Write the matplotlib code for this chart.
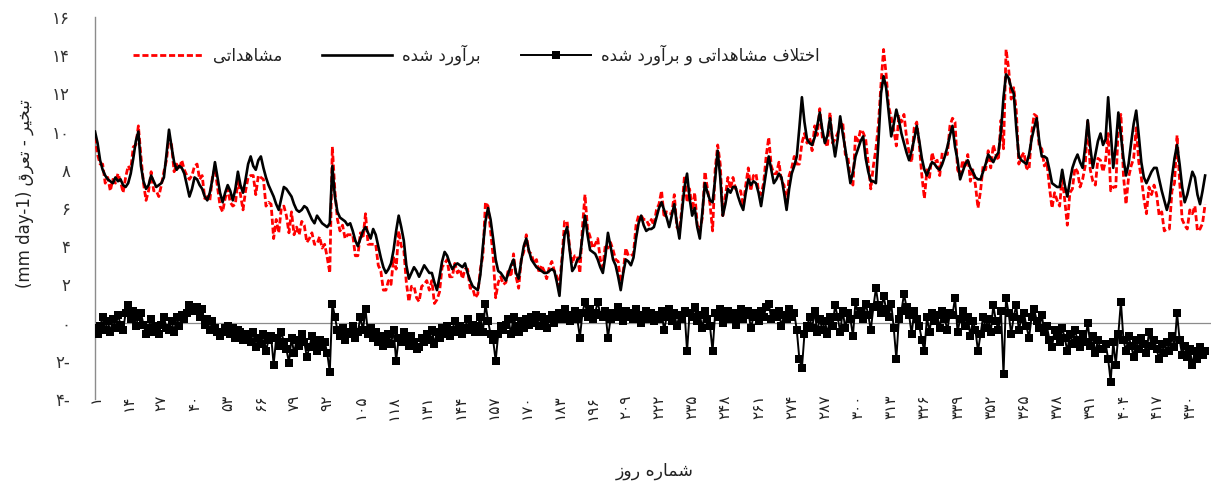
import matplotlib
matplotlib.use("Agg")
import matplotlib.pyplot as plt
import numpy as np

# ---------------- data ----------------
estimated = [
    10.0, 9.4, 8.5, 8.0, 7.7, 7.5, 7.4, 7.3, 7.6, 7.4,
    7.5, 7.2, 7.1, 7.3, 7.8, 8.6, 9.5, 10.0, 8.2, 7.4,
    7.0, 7.2, 7.7, 7.4, 7.1, 7.2, 7.3, 7.6, 8.8, 10.1,
    9.2, 8.4, 8.0, 8.2, 8.1, 7.8, 7.2, 6.6, 7.0, 7.6,
    7.5, 7.2, 7.0, 6.6, 6.4, 6.8, 7.5, 8.4, 7.6, 6.8,
    6.3, 6.8, 7.2, 6.9, 6.4, 7.0, 7.9, 7.2, 6.8, 7.5,
    8.3, 8.7, 8.2, 8.0, 8.5, 8.7, 8.1, 7.6, 7.2, 6.9,
    6.6, 6.2, 5.9, 6.5, 7.1, 7.0, 6.8, 6.6, 6.2, 5.9,
    5.8, 5.9, 6.1, 6.0, 5.7, 5.4, 5.2, 5.6, 5.4, 5.2,
    5.1, 5.0, 5.2, 8.2, 6.6, 5.8, 5.5, 5.4, 5.3, 5.1,
    5.2, 4.8, 4.3, 4.0, 4.4, 4.8, 5.0, 4.7, 4.4, 4.9,
    4.6, 4.0, 3.4, 2.9, 2.6, 2.8, 3.1, 3.8, 4.8, 5.6,
    5.0, 4.3, 3.0, 2.3, 2.6, 2.9, 2.7, 2.4, 2.7, 3.0,
    2.8, 2.6, 2.6, 2.1, 1.7, 2.4, 3.2, 3.7, 3.5, 3.1,
    2.8, 3.0, 3.1, 3.0, 2.9, 3.1, 2.6, 2.2, 1.9, 1.8,
    1.7, 2.5, 4.0, 5.3, 6.0, 5.4, 4.4, 3.3, 2.7, 2.6,
    2.4, 2.2, 2.6, 3.0, 3.3, 2.6, 2.3, 3.2, 4.0, 4.4,
    3.8, 3.3, 3.1, 2.9, 2.8, 2.7, 2.6, 2.6, 2.7, 2.8,
    2.7, 2.1, 1.4, 3.2, 4.6, 5.0, 3.8, 2.7, 2.9, 3.3,
    3.4, 4.5, 5.6, 4.6, 3.8, 3.7, 3.6, 3.3, 2.9, 2.6,
    3.5, 4.7, 4.0, 3.3, 3.0, 2.4, 1.7, 2.6, 3.3, 3.2,
    3.0, 3.4, 4.4, 5.2, 5.6, 5.1, 4.8, 4.9, 4.9, 5.0,
    5.5, 6.0, 6.3, 5.9, 5.5, 5.0, 5.6, 6.2, 5.2, 4.4,
    5.8, 7.1, 7.8, 6.5, 5.6, 6.0, 5.0, 4.4, 5.8, 7.3,
    6.8, 6.4, 6.3, 7.5, 9.0, 7.6, 5.6, 6.2, 7.0, 6.8,
    7.1, 7.1, 6.6, 6.2, 5.9, 6.8, 7.5, 7.2, 7.4, 7.3,
    6.8, 6.1, 7.0, 7.9, 8.7, 8.0, 7.3, 7.5, 7.8, 7.6,
    6.8, 5.9, 7.0, 7.8, 8.2, 8.7, 10.2, 11.8, 10.5, 9.6,
    9.4, 9.3, 9.7, 10.3, 11.0, 10.1, 9.4, 9.8, 10.7, 9.6,
    8.7, 9.6, 10.8, 9.9, 9.1, 8.2, 7.3, 7.9, 8.7, 9.1,
    9.5, 9.75, 8.6, 7.9, 7.4, 7.4, 7.3, 9.5, 12.0, 12.9,
    12.3, 11.0, 9.75, 10.4, 11.15, 10.6, 9.9, 9.4, 8.9, 8.5,
    9.0, 9.6, 10.3, 9.5, 8.6, 8.0, 7.7, 8.1, 8.4, 8.3,
    8.1, 8.0, 8.3, 8.7, 9.2, 9.8, 10.3, 9.2, 8.5, 7.5,
    7.9, 8.3, 8.5, 8.1, 7.9, 7.6, 7.5, 7.5, 7.9, 8.3,
    8.8, 8.6, 8.4, 8.7, 8.9, 10.0, 11.8, 13.0, 12.8, 12.3,
    12.0, 10.2, 8.7, 8.5, 8.4, 8.3, 8.8, 9.6, 10.2, 10.7,
    9.5, 8.7, 8.7, 8.6, 8.0, 7.3, 7.2, 7.1, 7.1, 8.0,
    7.2, 6.6, 7.4, 8.1, 8.5, 8.8, 8.4, 8.1, 9.2, 10.6,
    9.2, 8.1, 8.8, 9.5, 9.9, 9.3, 9.6, 11.8, 10.0, 8.1,
    9.3, 11.0, 9.8, 8.6, 7.7, 8.3, 9.4, 10.4, 11.1, 9.8,
    8.4, 7.6, 7.3, 7.6, 7.9, 8.1, 8.1, 7.5, 6.9, 6.4,
    5.9, 6.4, 7.6, 8.6, 9.3, 8.3, 7.1, 6.3, 6.7, 7.3,
    7.9, 7.6, 6.7, 6.2, 6.9, 7.7,
]

observed = [
    9.7, 8.8, 8.3, 8.3, 7.3, 7.6, 6.9, 7.5, 7.3, 7.8,
    7.4, 6.8, 7.6, 8.2, 8.0, 9.2, 9.3, 10.3, 8.7, 7.3,
    6.4, 6.9, 7.9, 6.9, 6.9, 6.6, 7.2, 7.9, 8.5, 9.7,
    9.3, 7.9, 8.3, 8.0, 8.5, 8.0, 7.7, 7.5, 7.7, 8.2,
    8.3, 7.5, 7.7, 6.5, 6.6, 6.4, 7.6, 8.1, 7.1, 6.1,
    5.8, 6.5, 7.0, 6.3, 6.1, 6.2, 7.5, 6.7, 5.9, 6.9,
    7.6, 7.7, 7.7, 6.7, 7.7, 7.6, 7.5, 6.1, 6.3, 6.2,
    4.4, 5.4, 4.7, 6.0, 6.1, 5.6, 4.7, 5.8, 4.6, 5.0,
    4.6, 5.3, 5.1, 4.2, 4.4, 4.7, 4.1, 4.1, 4.5, 3.9,
    4.1, 3.4, 2.6, 9.2, 6.9, 5.4, 4.8, 5.1, 4.4, 4.6,
    4.6, 4.6, 3.5, 3.5, 4.7, 4.4, 5.7, 4.1, 4.1, 4.1,
    4.1, 3.0, 2.7, 1.7, 1.7, 2.2, 2.0, 3.4, 2.8, 4.8,
    4.0, 3.8, 2.1, 1.1, 1.9, 1.9, 1.3, 1.1, 1.9, 2.0,
    2.2, 1.7, 2.2, 1.0, 1.2, 1.6, 2.9, 3.1, 3.3, 2.4,
    2.4, 3.1, 2.6, 2.8, 2.3, 2.8, 2.8, 1.8, 1.8, 1.3,
    1.5, 2.8, 3.5, 6.3, 6.1, 4.8, 3.5, 1.3, 2.1, 2.4,
    2.0, 2.1, 2.8, 2.4, 3.6, 2.4, 1.8, 3.3, 3.7, 4.6,
    3.7, 3.6, 3.1, 3.3, 2.6, 3.0, 2.7, 2.3, 2.9, 3.2,
    2.7, 2.4, 1.9, 3.4, 5.3, 5.3, 3.9, 3.1, 3.5, 3.5,
    2.6, 5.0, 6.7, 4.9, 4.5, 3.9, 4.1, 4.4, 3.3, 2.9,
    4.1, 3.9, 4.2, 3.8, 3.3, 3.2, 2.1, 2.7, 3.9, 3.5,
    3.5, 3.6, 5.1, 5.6, 5.6, 5.4, 5.4, 5.1, 5.4, 5.1,
    5.9, 6.2, 6.9, 5.5, 5.8, 5.7, 5.7, 6.7, 5.0, 4.8,
    6.0, 7.7, 6.3, 7.0, 5.9, 6.8, 5.1, 4.8, 5.5, 7.9,
    7.0, 6.2, 4.8, 8.0, 9.3, 8.3, 5.6, 6.6, 7.6, 7.0,
    7.6, 7.0, 6.9, 6.9, 6.1, 7.2, 8.1, 6.9, 7.7, 7.8,
    6.9, 6.7, 7.3, 8.7, 9.7, 8.2, 7.8, 7.8, 8.4, 7.4,
    7.2, 6.1, 7.7, 8.1, 8.7, 8.3, 8.3, 9.4, 9.9, 9.4,
    9.7, 9.0, 10.3, 9.8, 11.2, 9.7, 9.5, 9.2, 11.0, 9.4,
    9.6, 9.9, 10.3, 10.5, 8.8, 8.7, 7.5, 7.2, 9.8, 9.5,
    10.1, 9.95, 9.6, 8.3, 7.0, 8.2, 9.1, 10.4, 12.5, 14.3,
    13.0, 11.3, 10.75, 10.1, 9.25, 10.8, 10.5, 10.9, 9.7, 8.9,
    8.4, 10.2, 10.5, 9.3, 7.7, 6.5, 8.0, 7.6, 8.9, 8.4,
    8.5, 7.7, 8.9, 8.9, 8.8, 10.3, 10.7, 10.5, 8.0, 7.7,
    8.5, 8.1, 8.8, 7.4, 8.0, 7.2, 6.0, 6.9, 8.2, 8.0,
    9.0, 8.1, 9.3, 8.8, 8.5, 10.6, 9.1, 14.3, 13.3, 11.7,
    12.3, 11.1, 8.3, 8.7, 8.9, 8.1, 8.0, 9.9, 10.9, 10.8,
    9.2, 9.1, 8.2, 8.4, 7.1, 6.0, 6.8, 6.4, 6.1, 7.7,
    6.4, 5.1, 6.8, 7.0, 8.1, 7.9, 7.1, 7.5, 8.2, 10.6,
    8.0, 7.4, 7.2, 8.6, 8.5, 7.9, 8.5, 9.9, 6.9, 7.1,
    7.1, 10.4, 10.9, 7.7, 6.2, 7.6, 8.2, 8.6, 10.2, 8.4,
    7.6, 6.5, 5.7, 7.1, 6.7, 7.2, 6.7, 5.6, 5.8, 4.8,
    4.9, 4.9, 6.9, 7.3, 9.8, 7.4, 5.4, 5.1, 4.9, 5.9,
    5.7, 6.1, 4.8, 4.9, 5.2, 6.2,
]

difference = [
    -0.3, -0.6, -0.2, 0.3, -0.4, 0.1, -0.5, 0.2, -0.3, 0.4,
    -0.1, -0.4, 0.5, 0.9, 0.2, 0.6, -0.2, 0.3, 0.5, -0.1,
    -0.6, -0.3, 0.2, -0.5, -0.2, -0.6, -0.1, 0.3, -0.3, -0.4,
    0.1, -0.5, 0.3, -0.2, 0.4, 0.2, 0.5, 0.9, 0.7, 0.6,
    0.8, 0.3, 0.7, -0.1, 0.2, -0.4, 0.1, -0.3, -0.5, -0.7,
    -0.5, -0.3, -0.2, -0.6, -0.3, -0.8, -0.4, -0.5, -0.9, -0.6,
    -0.7, -1.0, -0.5, -1.3, -0.8, -1.1, -0.6, -1.5, -0.9, -0.7,
    -2.2, -0.8, -1.2, -0.5, -1.0, -1.4, -2.1, -0.8, -1.6, -0.9,
    -1.2, -0.6, -1.0, -1.8, -1.3, -0.7, -1.1, -1.5, -0.9, -1.3,
    -1.0, -1.6, -2.6, 1.0, 0.3, -0.4, -0.7, -0.3, -0.9, -0.5,
    -0.6, -0.2, -0.8, -0.5, 0.3, -0.4, 0.7, -0.6, -0.3, -0.8,
    -0.5, -1.0, -0.7, -1.2, -0.9, -0.6, -1.1, -0.4, -2.0, -0.8,
    -1.0, -0.5, -0.9, -1.2, -0.7, -1.0, -1.4, -1.3, -0.8, -1.0,
    -0.6, -0.9, -0.4, -1.1, -0.5, -0.8, -0.3, -0.6, -0.2, -0.7,
    -0.4, 0.1, -0.5, -0.2, -0.6, -0.3, 0.2, -0.4, -0.1, -0.5,
    -0.2, 0.3, -0.5, 1.0, 0.1, -0.6, -0.9, -2.0, -0.6, -0.2,
    -0.4, -0.1, 0.2, -0.6, 0.3, -0.2, -0.5, 0.1, -0.3, 0.2,
    -0.1, 0.3, 0.0, 0.4, -0.2, 0.3, 0.1, -0.3, 0.2, 0.4,
    0.0, 0.3, 0.5, 0.2, 0.7, 0.3, 0.1, 0.4, 0.6, 0.2,
    -0.8, 0.5, 1.1, 0.3, 0.7, 0.2, 0.5, 1.1, 0.4, 0.3,
    0.6, -0.8, 0.2, 0.5, 0.3, 0.8, 0.4, 0.1, 0.6, 0.3,
    0.5, 0.2, 0.7, 0.4, 0.0, 0.3, 0.6, 0.2, 0.5, 0.1,
    0.4, 0.2, 0.6, -0.4, 0.3, 0.7, 0.1, 0.5, -0.2, 0.4,
    0.2, 0.6, -1.5, 0.5, 0.3, 0.8, 0.1, 0.4, -0.3, 0.6,
    0.2, -0.2, -1.5, 0.5, 0.3, 0.7, 0.0, 0.4, 0.6, 0.2,
    0.5, -0.1, 0.3, 0.7, 0.2, 0.4, 0.6, -0.3, 0.3, 0.5,
    0.1, 0.6, 0.3, 0.8, 1.0, 0.2, 0.5, 0.3, 0.6, -0.2,
    0.4, 0.2, 0.7, 0.3, 0.5, -0.4, -1.9, -2.4, -0.6, -0.2,
    0.3, -0.3, 0.6, -0.5, 0.2, -0.4, 0.1, -0.6, 0.3, -0.2,
    0.9, 0.3, -0.5, 0.6, -0.3, 0.5, 0.2, -0.7, 1.1, 0.4,
    0.6, 0.2, 1.0, 0.4, -0.4, 0.8, 1.8, 0.9, 0.5, 1.4,
    0.7, 0.3, 1.0, -0.3, -1.9, 0.2, 0.6, 1.5, 0.8, 0.4,
    -0.6, 0.6, 0.2, -0.2, -0.9, -1.5, 0.3, -0.5, 0.5, 0.1,
    0.4, -0.3, 0.6, 0.2, -0.4, 0.5, 0.4, 1.3, -0.5, 0.2,
    0.6, -0.2, 0.3, -0.7, 0.1, -0.4, -1.5, -0.6, 0.3, -0.3,
    0.2, -0.5, 0.9, 0.1, -0.4, 0.6, -2.7, 1.3, 0.5, -0.6,
    0.3, 0.9, -0.4, 0.2, 0.5, -0.2, -0.8, 0.3, 0.7, 0.1,
    -0.3, 0.4, -0.5, -0.2, -0.9, -1.3, -0.4, -0.7, -1.0, -0.3,
    -0.8, -1.5, -0.6, -1.1, -0.4, -0.9, -1.3, -0.6, -1.0, 0.0,
    -1.2, -0.7, -1.6, -0.9, -1.4, -1.4, -1.1, -1.9, -3.1, -1.0,
    -2.2, -0.6, 1.1, -0.9, -1.5, -0.7, -1.2, -1.8, -0.9, -1.4,
    -0.8, -1.1, -1.6, -0.5, -1.2, -0.9, -1.4, -1.9, -1.1, -1.6,
    -1.0, -1.5, -0.7, -1.3, 0.5, -0.9, -1.7, -1.2, -1.8, -1.4,
    -2.2, -1.5, -1.9, -1.3, -1.7, -1.5,
]

x_tick_days = list(range(1, 431, 13))
y_ticks = [-4, -2, 0, 2, 4, 6, 8, 10, 12, 14, 16]

label_observed = "مشاهداتی"
label_estimated = "برآورد شده"
label_difference = "اختلاف مشاهداتی و برآورد شده"
x_title = "شماره روز"
y_title_fa = "تبخیر - تعرق"
y_title_unit = "(mm day-1)"

assert len(estimated) == len(observed) == len(difference)
days = np.arange(1, len(estimated) + 1)

# ---------------- Persian shaping (presentation forms, RTL) ----------------
FORMS = {
    'ا': ('\uFE8D', '\uFE8E', None, None),
    'آ': ('\uFE81', '\uFE82', None, None),
    'ب': ('\uFE8F', '\uFE90', '\uFE91', '\uFE92'),
    'ت': ('\uFE95', '\uFE96', '\uFE97', '\uFE98'),
    'خ': ('\uFEA5', '\uFEA6', '\uFEA7', '\uFEA8'),
    'د': ('\uFEA9', '\uFEAA', None, None),
    'ر': ('\uFEAD', '\uFEAE', None, None),
    'ز': ('\uFEAF', '\uFEB0', None, None),
    'ش': ('\uFEB5', '\uFEB6', '\uFEB7', '\uFEB8'),
    'ع': ('\uFEC9', '\uFECA', '\uFECB', '\uFECC'),
    'ف': ('\uFED1', '\uFED2', '\uFED3', '\uFED4'),
    'ق': ('\uFED5', '\uFED6', '\uFED7', '\uFED8'),
    'ل': ('\uFEDD', '\uFEDE', '\uFEDF', '\uFEE0'),
    'م': ('\uFEE1', '\uFEE2', '\uFEE3', '\uFEE4'),
    'ه': ('\uFEE9', '\uFEEA', '\uFEEB', '\uFEEC'),
    'و': ('\uFEED', '\uFEEE', None, None),
    'ی': ('\uFBFC', '\uFBFD', '\uFBFE', '\uFBFF'),
}


def shape_fa(s):
    items = []
    i = 0
    while i < len(s):
        c = s[i]
        if c == 'ل' and i + 1 < len(s) and s[i + 1] in 'اآ':
            items.append(('LA', s[i + 1]))
            i += 2
        else:
            items.append(('C', c))
            i += 1

    def joins_next(it):
        t, c = it
        return t == 'C' and c in FORMS and FORMS[c][2] is not None

    def is_letter(it):
        t, c = it
        return t == 'LA' or c in FORMS

    res = []
    for k, it in enumerate(items):
        prev_j = k > 0 and joins_next(items[k - 1])
        t, c = it
        if t == 'LA':
            if c == 'ا':
                res.append('\uFEFC' if prev_j else '\uFEFB')
            else:
                res.append('\uFEF6' if prev_j else '\uFEF5')
            continue
        if c not in FORMS:
            res.append(c)
            continue
        f = FORMS[c]
        next_j = f[2] is not None and k + 1 < len(items) and is_letter(items[k + 1])
        if prev_j and next_j:
            res.append(f[3])
        elif prev_j:
            res.append(f[1])
        elif next_j:
            res.append(f[2])
        else:
            res.append(f[0])
    return ''.join(reversed(res))


FA_DIGITS = '۰۱۲۳۴۵۶۷۸۹'


def fa_num(v):
    s = ''.join(FA_DIGITS[int(d)] for d in str(abs(int(v))))
    return s + ('-' if v < 0 else '')


# ---------------- figure ----------------
plt.rcParams['font.family'] = ['DejaVu Sans']
fig = plt.figure(figsize=(12.11, 4.83), dpi=100)
ax = fig.add_axes([95 / 1211, 1 - 399 / 483, 1 - 95 / 1211, (399 - 17) / 483])

ax.axhline(0, color='#8c8c8c', lw=0.9, zorder=1)

l_obs, = ax.plot(days, observed, color='#ff0000', lw=2.0,
                 linestyle=(0, (2.2, 1.0)), zorder=3)
l_est, = ax.plot(days, estimated, color='black', lw=1.9, zorder=4)
l_dif, = ax.plot(days, difference, color='black', lw=1.4, marker='s',
                 markersize=5.8, markeredgewidth=0, zorder=5)

ax.set_xlim(1, 1 + (1211 - 95) / 2.552)
ax.set_ylim(-4, 16)

ax.set_xticks(x_tick_days)
ax.set_xticklabels([fa_num(d) for d in x_tick_days], rotation=90,
                   fontsize=11, color='#222222')
ax.set_yticks(y_ticks)
ax.set_yticklabels([fa_num(v) for v in y_ticks], fontsize=12, color='#333333')
ax.tick_params(axis='x', length=0, pad=-3)
ax.tick_params(axis='y', length=0, pad=18)

for side in ('top', 'right', 'bottom'):
    ax.spines[side].set_visible(False)
ax.spines['left'].set_color('#8c8c8c')
ax.spines['left'].set_linewidth(1.0)

fig.text(655 / 1211, 1 - 471 / 483, shape_fa(x_title), ha='center',
         va='center', fontsize=12.5, color='#222222')
fig.text(25 / 1211, 1 - 194 / 483, y_title_unit + ' ' + shape_fa(y_title_fa),
         rotation=90, ha='center', va='center', fontsize=12, color='#222222')

leg = ax.legend([l_obs, l_est, l_dif],
                [shape_fa(label_observed), shape_fa(label_estimated),
                 shape_fa(label_difference)],
                ncol=3, frameon=False, loc='center left',
                bbox_to_anchor=(133 / 1211, 1 - 55 / 483),
                bbox_transform=fig.transFigure, borderpad=0, borderaxespad=0,
                handlelength=4.2, handletextpad=0.6, columnspacing=2.4,
                fontsize=12, markerscale=1.0)
for t in leg.get_texts():
    t.set_color('#222222')

fig.savefig('out.png', dpi=100)
